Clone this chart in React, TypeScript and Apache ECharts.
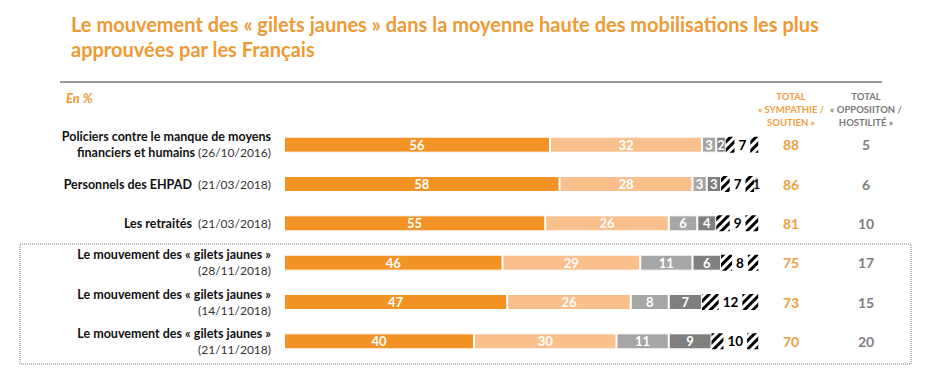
import React, { useEffect, useRef } from "react";
import * as echarts from "echarts";

const categories = [
  "Policiers contre le manque de moyens\nfinanciers et humains",
  "Personnels des EHPAD",
  "Les retraités",
  "Le mouvement des « gilets jaunes »",
  "Le mouvement des « gilets jaunes »",
  "Le mouvement des « gilets jaunes »",
];
const dates = ["(26/10/2016)", "(21/03/2018)", "(21/03/2018)", "(28/11/2018)", "(14/11/2018)", "(21/11/2018)"];
const toutAFait = [56, 58, 55, 46, 47, 40];
const plutot = [32, 28, 26, 29, 26, 30];
const plutotPas = [3, 3, 6, 11, 8, 11];
const pasDuTout = [2, 3, 4, 6, 7, 9];
const indifference = [7, 7, 9, 8, 12, 10];
const autre = [0, 1, 0, 0, 0, 0];
const totalSympathie = [88, 86, 81, 75, 73, 70];
const totalOpposition = [5, 6, 10, 17, 15, 20];

const FONT = "Lato, 'Noto Sans', sans-serif";
const ORANGE = "#F39325";
const TITLE_ORANGE = "#EE9A35";

export default function App() {
  const ref = useRef<HTMLDivElement>(null);
  useEffect(() => {
    if (!ref.current) return;
    const chart = echarts.init(ref.current, undefined, { renderer: "svg" });
    const keys = categories.map((c, i) => c + " " + dates[i]);
    const segLabel = (color: string) => ({
      show: true,
      position: "inside",
      color,
      fontFamily: FONT,
      fontWeight: "bold",
      fontSize: 13,
      formatter: (p: any) => (p.value ? String(p.value) : ""),
    });
    const mk = (name: string, data: number[], color: string, labelColor = "#fff") => ({
      name,
      type: "bar",
      stack: "s",
      barWidth: 16,
      data,
      itemStyle: { color, borderColor: "#fff", borderWidth: 1 },
      label: segLabel(labelColor),
    });
    const option: any = {
      animation: false,
      textStyle: { fontFamily: FONT },
      title: {
        text: "Le mouvement des « gilets jaunes » dans la moyenne haute des mobilisations les plus\napprouvées par les Français",
        left: 66,
        top: 6,
        textStyle: { color: TITLE_ORANGE, fontSize: 20, fontWeight: "bold", lineHeight: 25, fontFamily: FONT },
      },
      grid: { left: 284, right: 174, top: 125, height: 236 },
      xAxis: { type: "value", min: 0, max: 100, show: false },
      yAxis: [
        {
          type: "category",
          data: keys,
          inverse: true,
          axisLine: { show: false },
          axisTick: { show: false },
          axisLabel: {
            margin: 13,
            align: "right",
            lineHeight: 16,
            formatter: (_v: string, i: number) => {
              const c = categories[i];
              const d = dates[i];
              if (c.includes("gilets")) return `{n|${c}}\n{d|${d}}`;
              const lines = c.split("\n");
              return lines
                .map((l, k) => (k === lines.length - 1 ? `{n|${l}}{d|${lines.length > 1 ? " " : "  "}${d}}` : `{n|${l}}`))
                .join("\n");
            },
            rich: {
              n: { fontFamily: FONT, fontWeight: "bold", fontSize: 12.5, color: "#111", lineHeight: 16 },
              d: { fontFamily: FONT, fontSize: 12, color: "#333", lineHeight: 16 },
            },
          },
        },
        {
          type: "category",
          data: keys,
          inverse: true,
          position: "right",
          axisLine: { show: false },
          axisTick: { show: false },
          axisLabel: {
            margin: 32,
            align: "center",
            color: "#F0A040",
            fontFamily: FONT,
            fontWeight: "bold",
            fontSize: 14,
            formatter: (_v: string, i: number) => String(totalSympathie[i]),
          },
        },
        {
          type: "category",
          data: keys,
          inverse: true,
          position: "right",
          axisLine: { show: false },
          axisTick: { show: false },
          axisLabel: {
            margin: 107,
            align: "center",
            color: "#7f7f7f",
            fontFamily: FONT,
            fontWeight: "bold",
            fontSize: 14,
            formatter: (_v: string, i: number) => String(totalOpposition[i]),
          },
        },
      ],
      series: [
        mk("Tout à fait", toutAFait, ORANGE),
        mk("Plutôt", plutot, "#F9BF8C"),
        mk("Plutôt pas", plutotPas, "#A6A6A6"),
        mk("Pas du tout", pasDuTout, "#7F7F7F"),
        {
          name: "Indifférence",
          type: "bar",
          stack: "s",
          barWidth: 16,
          data: indifference,
          itemStyle: {
            color: "#fff",
            decal: {
              symbol: "rect",
              symbolSize: 1,
              dashArrayX: [1, 0],
              dashArrayY: [2.2, 3],
              rotation: -Math.PI / 4,
              color: "#000",
            },
          },
          label: {
            show: true,
            position: "inside",
            color: "#000",
            fontFamily: FONT,
            fontWeight: "bold",
            fontSize: 13.5,
            backgroundColor: "#fff",
            padding: [2, 4],
            formatter: (p: any) => (p.value ? String(p.value) : ""),
          },
        },
        mk("Autre", autre, "#D9D9D9", "#222"),
      ],
      graphic: [
        { type: "line", shape: { x1: 60, y1: 82, x2: 882, y2: 82 }, style: { stroke: "#9a9a9a", lineWidth: 2 } },
        {
          type: "text",
          x: 66,
          y: 91,
          style: { text: "En %", fill: TITLE_ORANGE, font: `italic bold 13px ${FONT}` },
        },
        {
          type: "text",
          x: 791,
          y: 90,
          style: {
            text: "TOTAL\n« SYMPATHIE /\nSOUTIEN »",
            fill: "#F0A040",
            align: "center",
            font: `bold 9.5px ${FONT}`,
            lineHeight: 13,
          },
        },
        {
          type: "text",
          x: 866,
          y: 90,
          style: {
            text: "TOTAL\n« OPPOSIITON /\nHOSTILITÉ »",
            fill: "#7a7a7a",
            align: "center",
            font: `bold 9.5px ${FONT}`,
            lineHeight: 13,
          },
        },
        {
          type: "rect",
          shape: { x: 20, y: 244, width: 891, height: 120 },
          style: { fill: "none", stroke: "#777", lineWidth: 1, lineDash: [1, 1] },
        },
      ],
    };
    chart.setOption(option);
    return () => chart.dispose();
  }, []);
  return <div ref={ref} style={{ position: "absolute", left: 0, top: 0, width: 933, height: 371, background: "#fff" }} />;
}
